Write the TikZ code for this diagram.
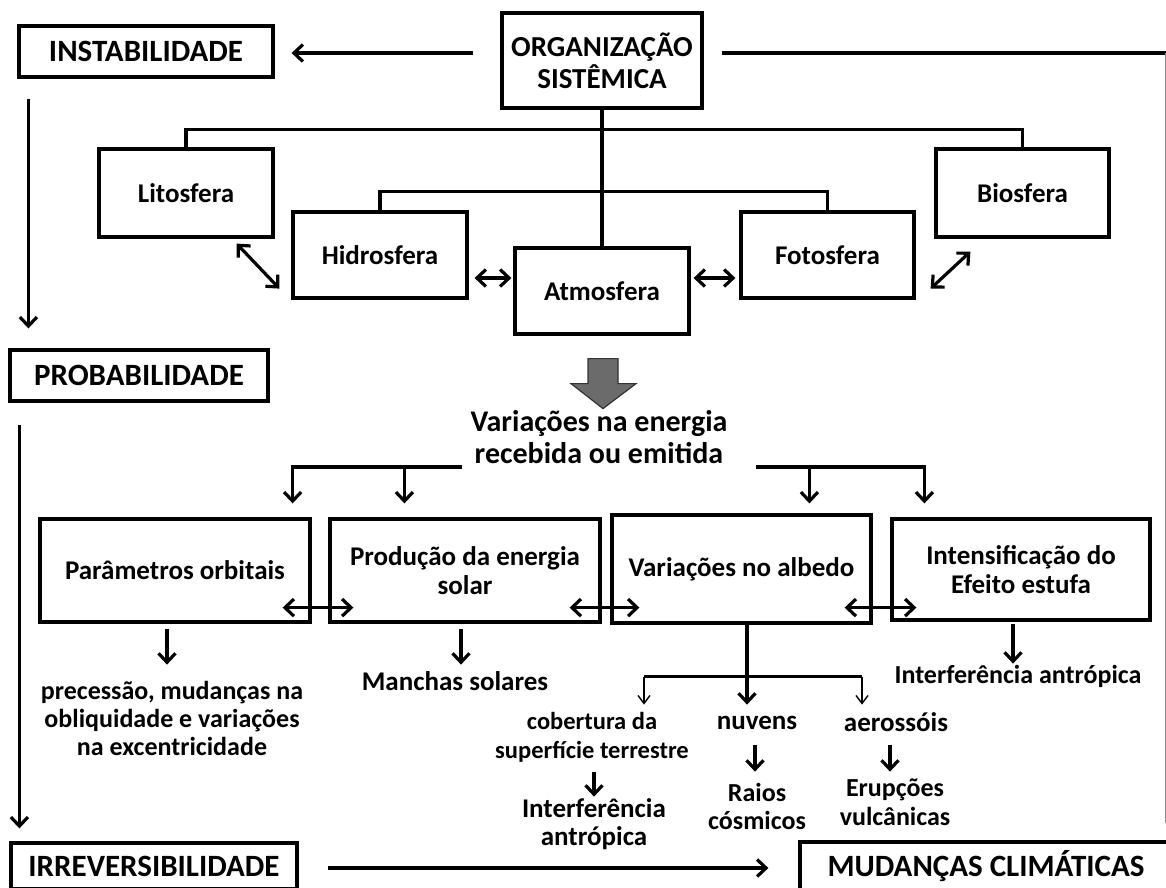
\documentclass[tikz,border=0pt]{standalone}
\usepackage{fontspec}
\setmainfont{Carlito}
\usetikzlibrary{arrows.meta,calc}
\newcommand\txtfont{\bfseries\fontsize{27}{29}\selectfont}
\newcommand\capfont{\bfseries\fontsize{31}{33}\selectfont}
\begin{document}
\begin{tikzpicture}[x=1pt,y=-1pt,
  box/.style={draw, line width=3.2pt, inner sep=0pt, align=center, font=\txtfont},
  capbox/.style={box, font=\capfont},
  txt/.style={inner sep=0pt, align=center, font=\txtfont},
  line/.style={line width=3.2pt},
  arr/.style={line width=3.2pt, -{Straight Barb[length=9pt,width=17pt]}},
  darr/.style={line width=3.2pt, {Straight Barb[length=9pt,width=17pt]}-{Straight Barb[length=9pt,width=17pt]}},
  tarr/.style={line width=1.4pt, -{Straight Barb[length=8pt,width=12pt]}}]
\useasboundingbox (0,0) rectangle (1166,887);
\fill[white] (0,0) rectangle (1166,887);
\clip (0,0) rectangle (1166,887);

% boxes
\node[capbox, minimum width=254pt, minimum height=51pt] (inst) at (146,51.5) {INSTABILIDADE};
\node[capbox, minimum width=200pt, minimum height=95pt, font=\bfseries\fontsize{29}{32}\selectfont] (org) at (602,60.5) {ORGANIZAÇÃO\\SISTÊMICA};
\node[box, minimum width=174pt, minimum height=88pt] (lito) at (186,193) {Litosfera};
\node[box, minimum width=174pt, minimum height=86pt] (hidro) at (380,255) {Hidrosfera};
\node[box, minimum width=174pt, minimum height=86pt] (atmo) at (602,291) {Atmosfera};
\node[box, minimum width=173pt, minimum height=86pt] (foto) at (827.5,255) {Fotosfera};
\node[box, minimum width=173pt, minimum height=88pt] (bio) at (1022.5,193) {Biosfera};
\node[capbox, minimum width=258pt, minimum height=51pt] (prob) at (139,375.5) {PROBABILIDADE};
\node[box, minimum width=270pt, minimum height=103pt] (param) at (175,570.5) {Parâmetros orbitais};
\node[box, minimum width=270pt, minimum height=103pt] (prod) at (465,570.5) {Produção da energia\\solar};
\node[box, minimum width=259pt, minimum height=108pt] (albedo) at (741.5,569) {Variações no albedo};
\node[box, minimum width=258pt, minimum height=101pt] (intens) at (1021,569.5) {Intensificação do\\Efeito estufa};
\node[capbox, minimum width=286pt, minimum height=46pt] (irrev) at (154,866) {IRREVERSIBILIDADE};
\node[capbox, minimum width=372pt, minimum height=48pt] (mud) at (986,866) {MUDANÇAS CLIMÁTICAS};

% text nodes
\node[txt, font=\bfseries\fontsize{30}{32}\selectfont] (varia) at (599,437) {Variações na energia\\recebida ou emitida};
\node[txt, font=\bfseries\fontsize{26}{28}\selectfont] (prec) at (172,718) {precessão, mudanças na\\obliquidade e variações\\na excentricidade};
\node[txt] (manchas) at (455,681) {Manchas solares};
\node[txt, font=\bfseries\fontsize{26}{29}\selectfont] (interfA) at (1018,676) {Interferência antrópica};
\node[txt, font=\bfseries\fontsize{24.5}{29}\selectfont] (cobert) at (592,737.5) {cobertura da\\superfície terrestre};
\node[txt, font=\bfseries\fontsize{27}{28}\selectfont] (interfB) at (594,824) {Interferência\\antrópica};
\node[txt] (nuvens) at (757,723) {nuvens};
\node[txt, font=\bfseries\fontsize{26}{28}\selectfont] (raios) at (757,806) {Raios\\cósmicos};
\node[txt] (aeross) at (896,722) {aerossóis};
\node[txt, font=\bfseries\fontsize{26}{29}\selectfont] (erup) at (895,802.5) {Erupções\\vulcânicas};

% top connectors
\coordinate (oL) at ($(org.west)+(-27,-7.5)$);
\draw[arr, shorten >=17pt] (oL) -- (oL -| inst.east);
\coordinate (oR) at ($(org.east)+(18,-7.5)$);
\coordinate (rEnd) at ($(mud.north east)+(-8,-17)$);
\draw[line] (oR) -- (oR -| rEnd);
\draw[black!45, line width=1.5pt] (oR -| rEnd) -- (rEnd);
\draw[arr] ($(inst.south west)+(11,20)$) -- ($(prob.north west)+(20,-20)$);
\draw[arr] ($(prob.south west)+(11,22)$) -- ($(irrev.north west)+(10,-13)$);

% tree
\draw[line] (org.south) -- (atmo.north);
\draw[line] (lito.north) -- ++(0,-18) -| (bio.north);
\draw[line] (hidro.north) -- ++(0,-19) -| (foto.north);

% sphere double arrows
\draw[darr] ($(lito.south east)+(-38,5)$) -- ($(hidro.south west)+(-12,-11)$);
\coordinate (ha) at ($(hidro.east)+(6,23)$);
\draw[darr, shorten >=2pt] (ha) -- (ha -| atmo.west);
\coordinate (af) at ($(atmo.east)+(3,-13)$);
\draw[darr, shorten >=4pt] (af) -- (af -| foto.west);
\draw[darr] ($(foto.south east)+(15,-11)$) -- ($(bio.south west)+(36,13)$);

% block arrow
\coordinate (ba) at ($(atmo.south)+(1,23)$);
\draw[fill=black!58, draw=black!80, line width=1.2pt]
  ($(ba)+(-15,0)$) -- ($(ba)+(15,0)$) -- ($(ba)+(15,25)$) -- ($(ba)+(33,25)$)
  -- ($(ba)+(0,50)$) -- ($(ba)+(-32,25)$) -- ($(ba)+(-15,25)$) -- cycle;

% branches
\coordinate (bL) at (462,467);
\draw[arr] (bL) -| ($(param.north east)+(-19,-14)$);
\draw[arr] ($(prod.north west)+(76,-52)$) -- ($(prod.north west)+(76,-14)$);
\coordinate (bR) at (756,467);
\draw[arr] (bR) -| ($(intens.north west)+(34,-14)$);
\draw[arr] ($(albedo.north west)+(199,-48)$) -- ($(albedo.north west)+(199,-10)$);

% bottom double arrows
\draw[darr] ($(param.south east)+(-29,-16)$) -- ($(prod.south west)+(25,-16)$);
\draw[darr] ($(prod.south east)+(-32,-16)$) -- ($(albedo.south west)+(29,-17)$);
\draw[darr] ($(albedo.south east)+(-28,-17)$) -- ($(intens.south west)+(26,-14)$);

% down arrows
\draw[arr] ($(param.south)+(-8,5)$) -- ++(0,36);
\draw[arr] ($(prod.south)+(-4,5)$) -- ++(0,36);
\draw[arr] ($(intens.south)+(-8,2)$) -- ++(0,40);
\draw[arr] ($(albedo.south)+(5.5,0)$) -- ++(0,80);
\coordinate (hl) at ($(albedo.south)+(-97.5,52)$);
\coordinate (hr) at ($(albedo.south)+(120.5,52)$);
\draw[line] (hl) -- (hr);
\draw[tarr] (hl) -- ++(0,28);
\draw[tarr] (hr) -- ++(0,28);
\draw[arr] ($(albedo.south)+(-147.5,147)$) -- ++(0,25);
\draw[arr] ($(albedo.south)+(13.5,120)$) -- ++(0,27);
\draw[arr] ($(albedo.south)+(148.5,120)$) -- ++(0,27);

% irreversibilidade -> mudancas
\coordinate (im) at ($(irrev.east)+(29,2)$);
\draw[arr, shorten >=30pt] (im) -- (im -| mud.west);
\end{tikzpicture}
\end{document}
